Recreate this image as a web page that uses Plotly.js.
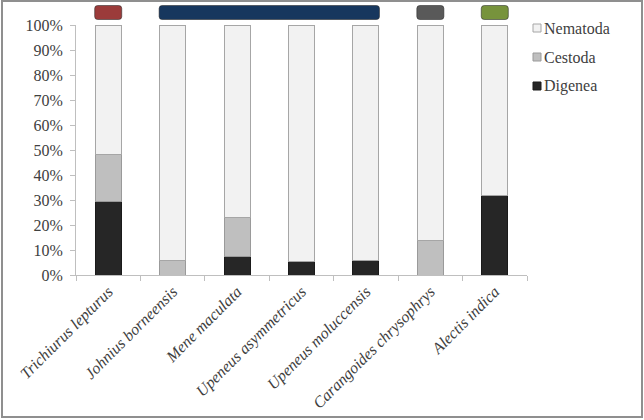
<!DOCTYPE html>
<html><head><meta charset="utf-8">
<script src="https://cdn.plot.ly/plotly-3.0.1.min.js"></script>
</head><body style="margin:0;font-family:'Liberation Serif'">
<div id="c"></div>
<div id="warm" style="font-family:'Liberation Serif';font-size:16px;height:0;overflow:hidden">Nematoda <i>Trichiurus lepturus</i> 100%</div>
<pre id="note" style="margin:0;font-size:1px"></pre>
<script>
// ---- data ----
var species = ["Trichiurus lepturus", "Johnius borneensis", "Mene maculata",
               "Upeneus asymmetricus", "Upeneus moluccensis",
               "Carangoides chrysophrys", "Alectis indica"];
var digenea  = [29.5, 0,  7.6, 5.4, 6,  0,  32];
var cestoda  = [18.8, 6, 15.4, 0,   0, 14,  0];
var nematoda = [51.7, 94, 77, 94.6, 94, 86, 68];
var seriesNames = ["Digenea", "Cestoda", "Nematoda"];
// family groups (category index ranges) shown as coloured boxes above bars
var groupStart = [0, 1, 5, 6];
var groupEnd   = [0, 4, 5, 6];

// ---- styles ----
var fills = ["#262626", "#bfbfbf", "#f2f2f2"];
var outlines = ["#1a1a1a", "#9a9a9a", "#a6a6a6"];
var groupColors = ["#9b3b3a", "#17375e", "#595959", "#77933c"];
var fontFam = "Liberation Serif";

var seriesValues = [digenea, cestoda, nematoda];
var traces = [];
seriesValues.forEach(function (vals, i) {
  traces.push({
    type: "bar", x: species, y: vals, name: seriesNames[i],
    marker: { color: fills[i], line: { color: outlines[i], width: 1 } },
    showlegend: false, hoverinfo: "skip"
  });
});

// plot geometry in pixels (for paper-coordinate decorations)
var L = 76, T = 25, W = 451, H = 250;
function paperX(p) { return (p - L) / W; }
function paperY(p) { return (T + H - p) / H; }

var nCat = species.length;
function catX(idx) { return (idx + 0.5) / nCat; }
var shapes = [];
// outer frame
shapes.push({
  type: "rect", xref: "paper", yref: "paper",
  x0: paperX(2), x1: paperX(642), y0: paperY(417), y1: paperY(1),
  line: { color: "#8f8f8f", width: 2 }, fillcolor: "rgba(0,0,0,0)"
});
var rx = 3 / W, ry = 3 / H;
groupStart.forEach(function (s, k) {
  var x0 = catX(s - 0.21), x1 = catX(groupEnd[k] + 0.21);
  var y0 = paperY(19.5), y1 = paperY(5.5);
  var path = "M" + (x0 + rx) + "," + y0 +
    " L" + (x1 - rx) + "," + y0 + " Q" + x1 + "," + y0 + " " + x1 + "," + (y0 + ry) +
    " L" + x1 + "," + (y1 - ry) + " Q" + x1 + "," + y1 + " " + (x1 - rx) + "," + y1 +
    " L" + (x0 + rx) + "," + y1 + " Q" + x0 + "," + y1 + " " + x0 + "," + (y1 - ry) +
    " L" + x0 + "," + (y0 + ry) + " Q" + x0 + "," + y0 + " " + (x0 + rx) + "," + y0 + " Z";
  shapes.push({
    type: "path", xref: "paper", yref: "paper", path: path,
    fillcolor: groupColors[k], line: { color: "rgba(40,40,40,0.55)", width: 1 }, layer: "above"
  });
});

// legend (top to bottom: Nematoda, Cestoda, Digenea)
var legendRowsY = [86, 57, 28];   // pixel centres for Digenea, Cestoda, Nematoda
var annotations = [];
seriesNames.forEach(function (nm, i) {
  var cy = legendRowsY[i];
  shapes.push({
    type: "rect", xref: "paper", yref: "paper",
    x0: paperX(533), x1: paperX(541), y0: paperY(cy + 4), y1: paperY(cy - 4),
    fillcolor: fills[i], line: { color: outlines[i], width: 1 }
  });
  annotations.push({
    xref: "paper", yref: "paper", x: paperX(542), y: paperY(cy),
    xanchor: "left", yanchor: "middle", showarrow: false, text: nm,
    font: { family: fontFam, size: 16, color: "#404040" }
  });
});

var layout = {
  width: 644, height: 420,
  margin: { l: L, r: 644 - L - W, t: T, b: 420 - T - H, pad: 0 },
  paper_bgcolor: "#ffffff", plot_bgcolor: "#ffffff",
  barmode: "stack", bargap: 0.597,
  font: { family: fontFam, size: 16, color: "#404040" },
  xaxis: {
    type: "category", tickson: "boundaries", ticks: "outside", ticklen: 5,
    tickcolor: "#bfbfbf", showline: true, linecolor: "#bfbfbf", linewidth: 1,
    showgrid: false, zeroline: false, tickangle: -45,
    tickfont: { family: fontFam, size: 16, color: "#404040", style: "italic" },
    range: [-0.5, 6.5], fixedrange: true
  },
  yaxis: {
    range: [0, 100], dtick: 10, ticksuffix: "%", ticks: "outside", ticklen: 5,
    tickcolor: "#bfbfbf", showline: true, linecolor: "#bfbfbf", linewidth: 1,
    showgrid: false, zeroline: false, ticklabelstandoff: 4,
    tickfont: { family: fontFam, size: 16, color: "#404040" }, fixedrange: true
  },
  showlegend: false,
  shapes: shapes,
  annotations: annotations
};

function draw() {
  return Plotly.newPlot("c", traces, layout, { displayModeBar: false });
}
var fontsReady = (document.fonts && document.fonts.load)
  ? Promise.all([document.fonts.load('16px "Liberation Serif"'),
                 document.fonts.load('italic 16px "Liberation Serif"')]).catch(function () {})
  : Promise.resolve();
fontsReady.then(draw).then(function () {
  document.getElementById("note").textContent = " ";
});
</script>
</body></html>
